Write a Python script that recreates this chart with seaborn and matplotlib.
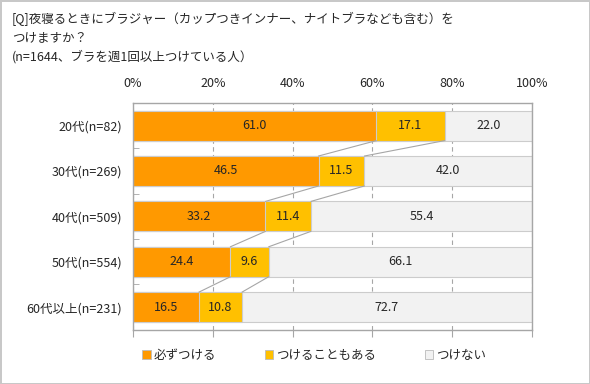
import numpy as np
import pandas as pd
import matplotlib
matplotlib.use("Agg")
import matplotlib.pyplot as plt
import seaborn as sns

# データ
groups = ["20代(n=82)", "30代(n=269)", "40代(n=509)", "50代(n=554)", "60代以上(n=231)"]
always = [61.0, 46.5, 33.2, 24.4, 16.5]
sometimes = [17.1, 11.5, 11.4, 9.6, 10.8]
never = [22.0, 42.0, 55.4, 66.1, 72.7]
series_names = ["必ずつける", "つけることもある", "つけない"]
colors = ["#FF9900", "#FFC000", "#F2F2F2"]
x_ticks = [0, 20, 40, 60, 80, 100]

title = "[Q]夜寝るときにブラジャー（カップつきインナー、ナイトブラなども含む）を\nつけますか？\n(n=1644、ブラを週1回以上つけている人）"

sns.set_style("white")
plt.rcParams["font.family"] = ["Noto Sans CJK JP", "DejaVu Sans"]

df = pd.DataFrame({"group": groups, "always": always,
                   "sometimes": sometimes, "never": never})
df["c1"] = df["always"]
df["c2"] = df["always"] + df["sometimes"]
df["c3"] = df["c2"] + df["never"]

fig = plt.figure(figsize=(5.9, 3.84), dpi=100, edgecolor="#c8c8c8", linewidth=2)
ax = fig.add_axes([0.2254, 0.141, 0.6763, 0.591])

bar_h = 0.66
# 累積値を広い方から重ねて描く
for col, c in zip(["c3", "c2", "c1"], colors[::-1]):
    sns.barplot(data=df, x=col, y="group", color=c, saturation=1, width=bar_h, orient="h",
                edgecolor="#cccccc", linewidth=0.8, ax=ax, zorder=2)

# 値ラベル
for i in range(len(groups)):
    lefts = [0, df["c1"][i], df["c2"][i]]
    vals = [always[i], sometimes[i], never[i]]
    for l, v in zip(lefts, vals):
        ax.text(l + v / 2, i, f"{v:.1f}", ha="center", va="center", fontsize=9, zorder=4)

# 区切り線
for i in range(len(groups) - 1):
    for col in ["c1", "c2"]:
        ax.plot([df[col][i], df[col][i + 1]], [i + bar_h / 2, i + 1 - bar_h / 2],
                color="#a6a6a6", lw=0.8, zorder=3)

ax.set_xlim(0, 100)
ax.set_ylim(4.5, -0.5)
ax.set_xticks(x_ticks)
ax.set_xticklabels([f"{t}%" for t in x_ticks], fontsize=9)
ax.tick_params(axis="x", top=False, labeltop=True, bottom=True, labelbottom=False,
               direction="out", length=5, color="#a6a6a6", pad=4)
ax.tick_params(axis="y", length=0, labelsize=9, pad=8)
ax.set_yticks(np.arange(0.5, 4, 1), minor=True)
ax.tick_params(axis="y", which="minor", direction="in", length=4, color="#a6a6a6", left=True)
ax.set_xlabel("")
ax.set_ylabel("")
ax.grid(axis="x", linestyle=(0, (4, 3)), color="#a6a6a6", lw=0.8, zorder=0)
ax.set_axisbelow(True)
for s in ax.spines.values():
    s.set_color("#a6a6a6")
    s.set_linewidth(1)

fig.text(0.02, 0.97, title, ha="left", va="top", fontsize=9, linespacing=1.55)

handles = [plt.Rectangle((0, 0), 1, 1, facecolor=c, edgecolor="#bbbbbb", lw=0.6) for c in colors]
fig.legend(handles, series_names, loc="center", bbox_to_anchor=(0.532, 0.075), ncol=3,
           frameon=False, fontsize=9, handlelength=0.7, handleheight=0.7,
           handletextpad=0.2, columnspacing=3.9)

fig.savefig("out.png", dpi=100, edgecolor=fig.get_edgecolor())
